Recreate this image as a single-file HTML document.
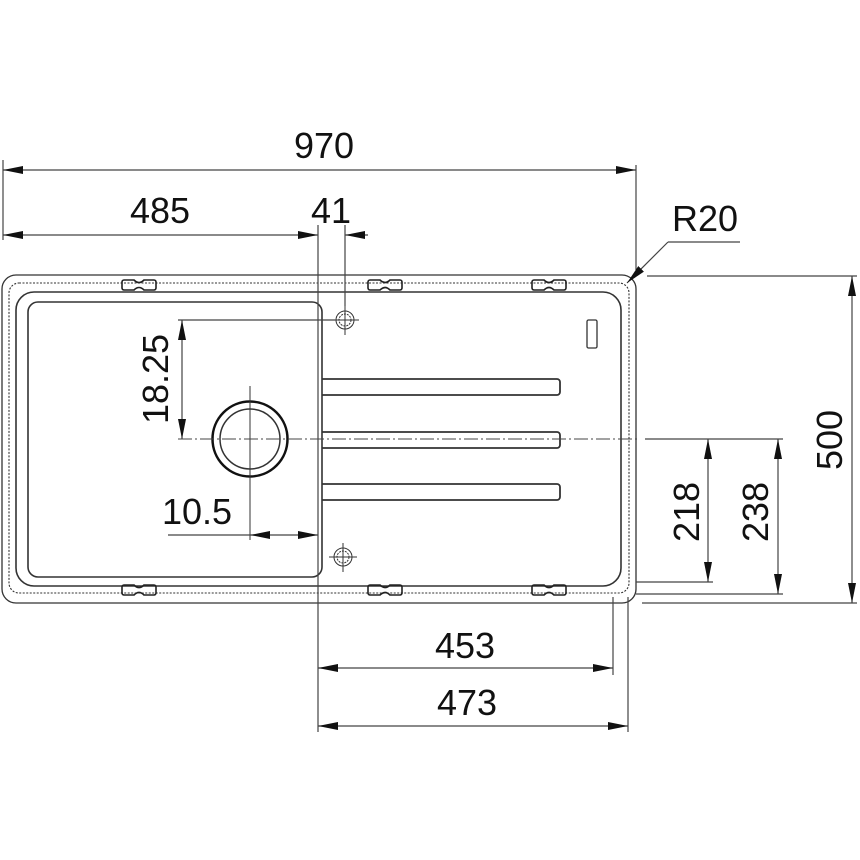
<!DOCTYPE html>
<html><head><style>html,body{margin:0;padding:0;background:#fff}svg{display:block}</style></head>
<body>
<svg width="860" height="860" viewBox="0 0 860 860" xmlns="http://www.w3.org/2000/svg" font-family="Liberation Sans, Arial, sans-serif">
<defs>
<marker id="a" viewBox="0 0 20 8" refX="20" refY="4" markerWidth="20" markerHeight="8" markerUnits="userSpaceOnUse" orient="auto-start-reverse"><path d="M0,0 L20,4 L0,8 z" fill="#111"/></marker>
</defs>
<g fill="none" stroke="#333" stroke-width="1.3">
<rect x="2" y="275" width="634" height="328" rx="14"/>
<rect x="9" y="283" width="620" height="310" rx="10" stroke-dasharray="2,1.5" stroke-width="1.1"/>
<rect x="16" y="292" width="605" height="294" rx="18" stroke-width="1.6"/>
<rect x="28" y="302" width="294" height="275" rx="10" stroke-width="1.6"/>
<line x1="318" y1="302" x2="318" y2="578" stroke-width="1"/>
<path d="M322,379 H557 a3,3 0 0 1 3,3 v10 a3,3 0 0 1 -3,3 H322" stroke-width="1.8"/>
<path d="M322,432 H557 a3,3 0 0 1 3,3 v10 a3,3 0 0 1 -3,3 H322" stroke-width="1.8"/>
<path d="M322,484 H557 a3,3 0 0 1 3,3 v10 a3,3 0 0 1 -3,3 H322" stroke-width="1.8"/>
<rect x="587" y="320" width="10" height="28" rx="1.5"/>
<circle cx="250" cy="439" r="37.5" stroke-width="2.5" stroke="#111"/>
<circle cx="250" cy="439" r="30" stroke-width="1.5"/>
<line x1="250" y1="386" x2="250" y2="540" stroke-width="1"/>
<g stroke-width="1">
<circle cx="345" cy="320" r="9"/><circle cx="345" cy="320" r="6" stroke-dasharray="2,1"/>
<line x1="331" y1="320" x2="359" y2="320"/><line x1="345" y1="306" x2="345" y2="335"/>
<circle cx="343" cy="557" r="9"/><circle cx="343" cy="557" r="6" stroke-dasharray="2,1"/>
<line x1="329" y1="557" x2="357" y2="557"/><line x1="343" y1="543" x2="343" y2="572"/>
</g>
<g stroke-width="1.6" stroke="#222">
<path d="M124,280 h10 q5,5 10,0 h10 a2,2 0 0 1 2,2 v6 a2,2 0 0 1 -2,2 h-10 q-5,-5 -10,0 h-10 a2,2 0 0 1 -2,-2 v-6 a2,2 0 0 1 2,-2z"/>
<path d="M370,280 h10 q5,5 10,0 h10 a2,2 0 0 1 2,2 v6 a2,2 0 0 1 -2,2 h-10 q-5,-5 -10,0 h-10 a2,2 0 0 1 -2,-2 v-6 a2,2 0 0 1 2,-2z"/>
<path d="M534,280 h10 q5,5 10,0 h10 a2,2 0 0 1 2,2 v6 a2,2 0 0 1 -2,2 h-10 q-5,-5 -10,0 h-10 a2,2 0 0 1 -2,-2 v-6 a2,2 0 0 1 2,-2z"/>
<path d="M124,585 h10 q5,5 10,0 h10 a2,2 0 0 1 2,2 v6 a2,2 0 0 1 -2,2 h-10 q-5,-5 -10,0 h-10 a2,2 0 0 1 -2,-2 v-6 a2,2 0 0 1 2,-2z"/>
<path d="M370,585 h10 q5,5 10,0 h10 a2,2 0 0 1 2,2 v6 a2,2 0 0 1 -2,2 h-10 q-5,-5 -10,0 h-10 a2,2 0 0 1 -2,-2 v-6 a2,2 0 0 1 2,-2z"/>
<path d="M534,585 h10 q5,5 10,0 h10 a2,2 0 0 1 2,2 v6 a2,2 0 0 1 -2,2 h-10 q-5,-5 -10,0 h-10 a2,2 0 0 1 -2,-2 v-6 a2,2 0 0 1 2,-2z"/>
</g>
</g>
<g fill="none" stroke="#444" stroke-width="1.2">
<line x1="3" y1="160" x2="3" y2="240"/>
<line x1="636" y1="165" x2="636" y2="270"/>
<line x1="3" y1="170" x2="636" y2="170" marker-start="url(#a)" marker-end="url(#a)"/>
<line x1="3" y1="235" x2="318" y2="235" marker-start="url(#a)" marker-end="url(#a)"/>
<line x1="345" y1="235" x2="368" y2="235" marker-start="url(#a)"/>
<line x1="318" y1="225" x2="318" y2="732"/>
<line x1="345" y1="225" x2="345" y2="306"/>
<line x1="740" y1="242" x2="668" y2="242"/>
<line x1="668" y1="242" x2="627" y2="283" marker-end="url(#a)"/>
<line x1="178" y1="320" x2="335" y2="320"/>
<line x1="182" y1="320" x2="182" y2="439" marker-start="url(#a)" marker-end="url(#a)"/>
<line x1="178" y1="439" x2="640" y2="439" stroke-dasharray="14,3,2,3" stroke-width="1"/>
<line x1="168" y1="535" x2="250" y2="535"/>
<line x1="250" y1="535" x2="318" y2="535" marker-start="url(#a)" marker-end="url(#a)"/>
<line x1="645" y1="439" x2="783" y2="439"/>
<line x1="636" y1="582" x2="713" y2="582"/>
<line x1="636" y1="594" x2="783" y2="594"/>
<line x1="642" y1="603" x2="857" y2="603"/>
<line x1="647" y1="276" x2="857" y2="276"/>
<line x1="708" y1="439" x2="708" y2="582" marker-start="url(#a)" marker-end="url(#a)"/>
<line x1="778" y1="439" x2="778" y2="594" marker-start="url(#a)" marker-end="url(#a)"/>
<line x1="852" y1="276" x2="852" y2="603" marker-start="url(#a)" marker-end="url(#a)"/>
<line x1="613" y1="597" x2="613" y2="675"/>
<line x1="628" y1="597" x2="628" y2="732"/>
<line x1="318" y1="668" x2="613" y2="668" marker-start="url(#a)" marker-end="url(#a)"/>
<line x1="318" y1="726" x2="628" y2="726" marker-start="url(#a)" marker-end="url(#a)"/>
</g>
<g fill="#111" font-size="36" text-anchor="middle">
<text x="324" y="158">970</text>
<text x="160" y="223">485</text>
<text x="331" y="223">41</text>
<text x="705" y="231">R20</text>
<text x="197" y="524">10.5</text>
<text x="465" y="658">453</text>
<text x="467" y="715">473</text>
<text transform="translate(168,379) rotate(-90)">18.25</text>
<text transform="translate(699,512) rotate(-90)">218</text>
<text transform="translate(768,512) rotate(-90)">238</text>
<text transform="translate(842,440) rotate(-90)">500</text>
</g>
</svg>
</body></html>
